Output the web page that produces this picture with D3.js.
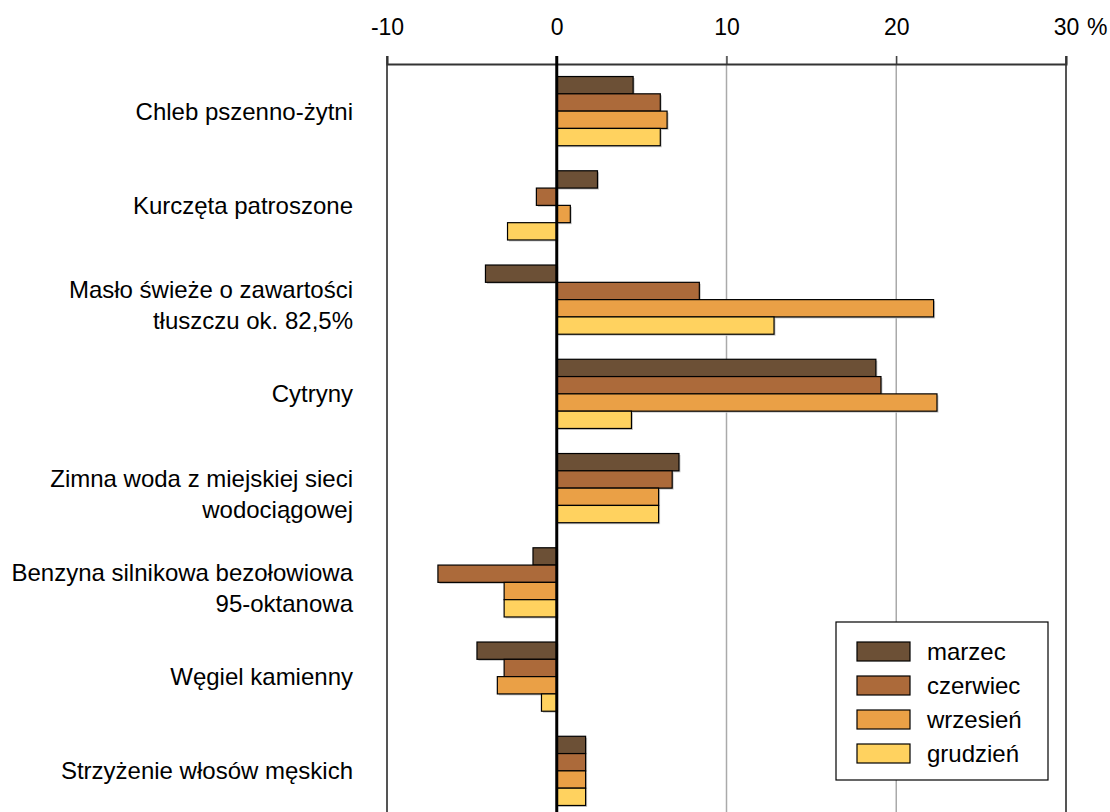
<!DOCTYPE html>
<meta charset="utf-8">
<title>Ceny - zmiany</title>
<style>
  body { margin: 0; background: #fff; }
  text { font-family: "Liberation Sans", Arial, sans-serif; fill: #000; }
</style>
<body>
<script src="https://d3js.org/d3.v7.min.js"></script>
<script>

// categories (\n marks a line break in the label)
let categories = [
  "Chleb pszenno-żytni",
  "Kurczęta patroszone",
  "Masło świeże o zawartości\ntłuszczu ok. 82,5%",
  "Cytryny",
  "Zimna woda z miejskiej sieci\nwodociągowej",
  "Benzyna silnikowa bezołowiowa\n95-oktanowa",
  "Węgiel kamienny",
  "Strzyżenie włosów męskich"
];
let seriesNames = ["marzec", "czerwiec", "wrzesień", "grudzień"];
let marzec   = [4.5,  2.4, -4.2, 18.8, 7.2, -1.4, -4.7, 1.7];
let czerwiec = [6.1, -1.2,  8.4, 19.1, 6.8, -7.0, -3.1, 1.7];
let wrzesien = [6.5,  0.8, 22.2, 22.4, 6.0, -3.1, -3.5, 1.7];
let grudzien = [6.1, -2.9, 12.8,  4.4, 6.0, -3.1, -0.9, 1.7];
let xTicks = [-10, 0, 10, 20, 30];
let colors = ["#6c5036", "#ac6a3a", "#eaa046", "#ffd25f"];

let seriesValues = [marzec, czerwiec, wrzesien, grudzien];

let width = 1110;
let height = 812;
let plotTop = 64;

let x = d3.scaleLinear().domain([-10, 30]).range([387, 1066]);
let y = d3.scaleBand().domain(categories).range([plotTop, plotTop + 8 * 94.25]);
let groupH = 69.2;
let y1 = d3.scaleBand().domain(seriesNames).range([0, groupH]);
let c = d3.scaleOrdinal().domain(seriesNames).range(colors);

let svg = d3.select('body').append('svg')
    .attr('width', width)
    .attr('height', height);

// gridlines
svg.append('g').selectAll('line')
    .data([10, 20])
    .enter().append('line')
        .attr('x1', d => x(d)).attr('x2', d => x(d))
        .attr('y1', plotTop - 8).attr('y2', height)
        .attr('stroke', '#aaa')
        .attr('stroke-width', 1.5);

// plot borders left / right
svg.append('g').selectAll('line')
    .data([-10, 30])
    .enter().append('line')
        .attr('x1', d => x(d)).attr('x2', d => x(d))
        .attr('y1', plotTop - 8).attr('y2', height)
        .attr('stroke', '#555')
        .attr('stroke-width', 2);

// top axis
let axis = svg.append('g')
    .attr('transform', `translate(0,${plotTop})`)
    .call(d3.axisTop(x).tickValues(xTicks).tickSize(8).tickFormat(d => String(d)));
axis.select('.domain').attr('stroke', '#333').attr('stroke-width', 2);
axis.selectAll('.tick line').attr('stroke', '#333').attr('stroke-width', 1.2);
axis.selectAll('.tick text')
    .attr('y', 0)
    .attr('dy', -29)
    .style('font-size', '23px')
    .style('font-family', '"Liberation Sans", Arial, sans-serif')
    .attr('fill', '#000');

svg.append('text')
    .attr('x', x(30) + 21)
    .attr('y', plotTop - 29)
    .style('font-size', '23px')
    .text('%');

// bars
let groups = svg.append('g').selectAll('g')
    .data(categories)
    .enter().append('g')
        .attr('transform', d => `translate(0,${y(d) + (y.bandwidth() - groupH) / 2})`);

groups.selectAll('rect.shadow')
    .data((d, i) => seriesNames.map((s, k) => ({ s: s, v: seriesValues[k][i] })))
    .enter().append('rect')
        .attr('class', 'shadow')
        .attr('x', d => Math.min(x(0), x(d.v)) + 1.5)
        .attr('y', d => y1(d.s) + 1.5)
        .attr('width', d => Math.abs(x(d.v) - x(0)))
        .attr('height', y1.bandwidth())
        .attr('fill', '#c8c8c8');

groups.selectAll('rect.bar')
    .data((d, i) => seriesNames.map((s, k) => ({ s: s, v: seriesValues[k][i] })))
    .enter().append('rect')
        .attr('class', 'bar')
        .attr('x', d => Math.min(x(0), x(d.v)))
        .attr('y', d => y1(d.s))
        .attr('width', d => Math.abs(x(d.v) - x(0)))
        .attr('height', y1.bandwidth())
        .attr('fill', d => c(d.s))
        .attr('stroke', '#000')
        .attr('stroke-width', 1.2);

// zero line
svg.append('line')
    .attr('x1', x(0)).attr('x2', x(0))
    .attr('y1', plotTop - 8).attr('y2', height)
    .attr('stroke', '#000')
    .attr('stroke-width', 3);

// category labels
svg.append('g').selectAll('text')
    .data(categories)
    .enter().append('text')
        .attr('text-anchor', 'end')
        .style('font-size', '24px')
        .each(function(d) {
            let lines = d.split('\n');
            let cy = y(d) + y.bandwidth() / 2;
            let t = d3.select(this);
            lines.forEach((ln, i) => {
                let yc = lines.length === 1 ? cy : cy - 10 + i * 31;
                t.append('tspan')
                    .attr('x', 353)
                    .attr('y', yc + 8.5)
                    .text(ln);
            });
        });

// legend
let legend = svg.append('g');
legend.append('rect')
    .attr('x', 836).attr('y', 622)
    .attr('width', 212).attr('height', 158)
    .attr('fill', '#fff')
    .attr('stroke', '#000')
    .attr('stroke-width', 1.2);

let item = legend.selectAll('.item')
    .data(seriesNames)
    .enter().append('g')
        .attr('class', 'item')
        .attr('transform', (d, i) => `translate(857,${642 + i * 34})`);
item.append('rect')
    .attr('width', 53)
    .attr('height', 19)
    .attr('fill', d => c(d))
    .attr('stroke', '#000')
    .attr('stroke-width', 1.2);
item.append('text')
    .attr('x', 70)
    .attr('y', 18)
    .style('font-size', '24px')
    .text(d => d);

</script>
</body>
